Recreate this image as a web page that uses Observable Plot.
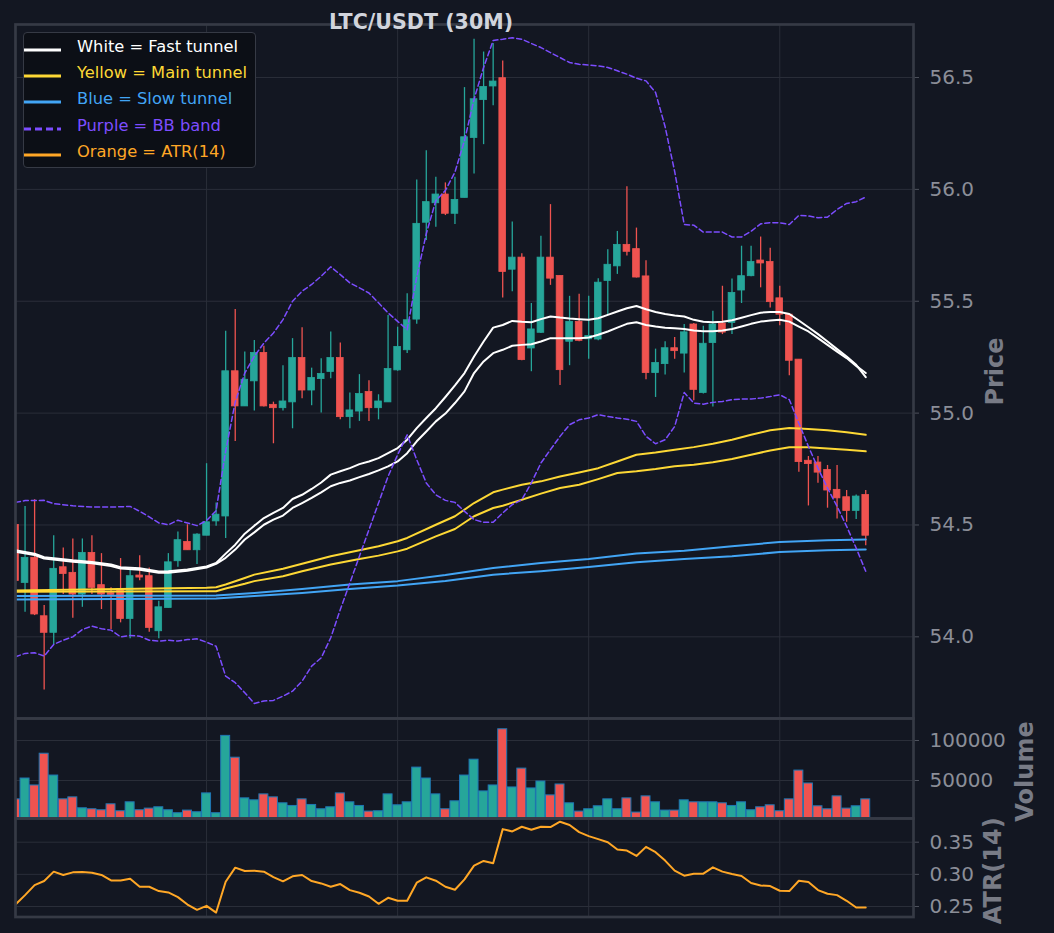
<!DOCTYPE html>
<html><head><meta charset="utf-8">
<script src="https://cdn.jsdelivr.net/npm/d3@7"></script>
<script src="https://cdn.jsdelivr.net/npm/@observablehq/plot@0.6"></script>
<style>
html,body{margin:0;padding:0;background:#131722;}
#wrap{position:relative;width:1054px;height:933px;background:#131722;overflow:hidden;font-family:"DejaVu Sans",sans-serif;}
#wrap svg{position:absolute;left:0;overflow:visible;}
#title{position:absolute;left:0;width:842px;top:10px;text-align:center;font:bold 20.6px "DejaVu Sans",sans-serif;color:#d1d4dc;}
#legend{position:absolute;left:23px;top:32px;width:233px;height:136px;background:#0c0f16;border:1px solid #363a45;border-radius:4px;box-sizing:border-box;}
.lrow{position:absolute;left:0;height:26px;line-height:26px;font:16.3px "DejaVu Sans",sans-serif;white-space:nowrap;}
.lrow svg{position:absolute !important;left:5px;top:11px;}
.lrow span{position:absolute;left:53px;}
</style></head><body><div id="wrap"></div><script>
// ---------- DATA ----------
const candleOpen  = [54.50,54.241,54.353,54.092,54.018,54.311,54.286,54.189,54.375,54.231,54.195,54.214,54.080,54.274,54.271,54.025,54.129,54.338,54.424,54.387,54.452,54.516,54.538,55.187,55.030,55.142,55.269,55.037,55.022,55.048,55.246,55.101,55.152,55.184,55.246,54.982,55.007,55.094,55.022,55.048,55.191,55.281,55.418,55.851,55.938,55.977,55.891,55.962,56.230,56.399,56.460,56.497,55.641,55.695,55.289,55.359,55.695,55.613,55.319,55.408,55.330,55.329,55.591,55.656,55.752,55.733,55.611,55.179,55.219,55.290,55.266,55.396,55.090,55.313,55.400,55.403,55.548,55.612,55.682,55.675,55.513,55.440,55.239,54.787,54.779,54.746,54.657,54.624,54.563,54.634];
const candleHigh  = [54.506,54.583,54.613,54.140,54.452,54.397,54.4375,54.4375,54.452,54.372,54.219,54.350,54.301,54.363,54.308,54.159,54.372,54.469,54.501,54.461,54.774,54.598,55.366,55.463,55.273,55.325,55.299,55.049,55.212,55.333,55.381,55.201,55.243,55.363,55.313,55.090,55.172,55.145,55.082,55.436,55.384,55.534,56.042,56.173,56.054,56.029,56.054,56.455,56.671,56.614,56.652,56.574,55.854,55.712,55.490,55.790,55.932,55.613,55.522,55.531,55.522,55.601,55.730,55.812,56.012,55.827,55.681,55.286,55.319,55.338,55.396,55.400,55.388,55.455,55.567,55.600,55.746,55.746,55.787,55.737,55.567,55.440,55.239,54.806,54.806,54.766,54.766,54.654,54.634,54.654];
const candleLow   = [54.249,54.110,54.095,53.762,53.966,54.189,54.083,54.132,54.189,54.122,54.033,54.0625,53.991,54.251,54.021,53.991,54.129,54.311,54.387,54.323,54.452,54.494,54.440,54.873,55.030,55.010,55.027,54.863,55.010,54.930,55.064,55.033,55.000,55.154,54.970,54.930,54.963,54.963,54.970,55.048,55.187,55.267,55.397,55.772,55.831,55.883,55.843,55.962,56.069,56.200,56.374,55.515,55.542,55.234,55.185,55.356,55.571,55.123,55.212,55.319,55.241,55.323,55.438,55.620,55.702,55.604,55.149,55.070,55.170,55.241,55.179,55.055,55.085,55.027,55.351,55.351,55.490,55.609,55.560,55.470,55.391,55.167,54.736,54.585,54.687,54.575,54.527,54.512,54.525,54.407];
const candleClose = [54.25,54.353,54.100,54.018,54.304,54.281,54.189,54.375,54.219,54.189,54.188,54.080,54.271,54.265,54.040,54.132,54.333,54.432,54.387,54.457,54.512,54.546,55.187,55.030,55.149,55.269,55.030,55.022,55.052,55.246,55.101,55.157,55.175,55.246,54.982,55.012,55.085,55.022,55.052,55.197,55.296,55.415,55.846,55.943,55.977,55.891,55.953,56.233,56.403,56.458,56.482,55.631,55.695,55.237,55.374,55.695,55.601,55.192,55.408,55.323,55.345,55.583,55.663,55.752,55.721,55.606,55.179,55.224,55.290,55.277,55.361,55.104,55.310,55.396,55.360,55.537,55.612,55.675,55.669,55.496,55.440,55.234,54.781,54.772,54.734,54.654,54.619,54.563,54.627,54.452];
const volume = [26446,52480,43805,83472,56200,26446,28930,15290,14054,12815,20250,11575,22730,12815,14880,16530,12815,9100,12400,10330,33890,9100,105785,78514,27690,25210,32650,28930,21490,18185,26446,19425,14054,16530,33890,22730,18185,11160,11575,32650,19010,22730,66120,52480,32650,14054,23970,56200,76035,36370,43805,114050,41325,64880,40090,48760,31410,45040,21490,11160,14054,17770,26446,14054,27690,9920,30170,22730,12400,12400,25210,22730,22730,22730,21490,18185,22730,12815,16530,19010,11575,26446,62400,46285,17770,14054,30170,14880,17770,26446];
const atr14 = [0.2531,0.2677,0.2833,0.2896,0.3042,0.2990,0.3031,0.3036,0.3026,0.2990,0.2906,0.2906,0.2932,0.2807,0.2807,0.2740,0.2719,0.2646,0.2531,0.2448,0.2510,0.2406,0.2885,0.3104,0.3052,0.3057,0.3042,0.2958,0.2891,0.2969,0.2990,0.2896,0.2859,0.2807,0.2849,0.2755,0.2714,0.2656,0.2542,0.2635,0.2589,0.2589,0.2870,0.2953,0.2901,0.2807,0.2760,0.2922,0.3135,0.3208,0.3172,0.3703,0.3667,0.3740,0.3693,0.3740,0.3734,0.3818,0.3766,0.3656,0.3594,0.3547,0.3500,0.3385,0.3370,0.3286,0.3427,0.3344,0.3214,0.3057,0.2979,0.3010,0.3010,0.3109,0.3042,0.3005,0.2974,0.2865,0.2828,0.2818,0.2745,0.2740,0.2901,0.2880,0.2755,0.2698,0.2677,0.2589,0.2484,0.2484];

const fastIdx = [0,2,3,6,8,10,11,13,15,16,18,20,21,22,23,24,25,26,27,28,29,30,31,32,33,34,35,36,37,38,39,40,41,42,43,44,45,46,47,48,49,50,51,52,53,54,55,56,57,58,59,60,61,62,63,64,65,66,67,68,69,70,71,72,73,74,75,76,77,78,79,80,81,82,83,84,85,86,87,88,89];
const fastA = [54.387,54.372,54.356,54.342,54.335,54.323,54.311,54.307,54.292,54.293,54.301,54.315,54.330,
  54.372,54.412,54.461,54.497,54.531,54.554,54.576,54.616,54.635,54.661,54.690,54.725,54.740,54.754,54.772,54.784,54.799,54.821,54.844,54.881,54.933,54.978,55.022,55.072,
  55.124,55.179,55.253,55.320,55.382,55.394,55.412,55.408,55.406,55.420,55.432,55.427,55.423,55.420,55.417,55.424,55.439,55.454,55.469,55.479,55.464,55.452,55.443,55.436,55.432,55.417,55.408,55.406,55.408,55.415,55.426,55.438,55.449,55.452,55.452,55.443,55.414,55.384,55.353,55.320,55.286,55.253,55.216,55.161];
const fastB = [54.380,54.366,54.350,54.336,54.329,54.317,54.305,54.300,54.286,54.287,54.295,54.310,54.326,
  54.353,54.390,54.435,54.467,54.501,54.524,54.542,54.576,54.598,54.621,54.646,54.673,54.688,54.699,54.714,54.728,54.744,54.762,54.784,54.821,54.874,54.918,54.963,54.998,
  55.045,55.097,55.179,55.231,55.268,55.283,55.301,55.305,55.308,55.320,55.335,55.335,55.335,55.335,55.338,55.350,55.365,55.382,55.399,55.406,55.394,55.387,55.382,55.379,55.376,55.369,55.366,55.366,55.369,55.376,55.387,55.399,55.409,55.414,55.417,55.409,55.387,55.365,55.335,55.305,55.275,55.246,55.211,55.179];

const mainIdx = [0,20,21,22,24,25,28,30,33,36,38,40,41,44,46,48,50,51,53,55,57,59,61,63,65,67,69,71,73,75,77,79,81,83,85,87,89];
const mainA = [54.207,54.219,54.222,54.234,54.263,54.278,54.304,54.327,54.360,54.387,54.405,54.427,54.442,54.501,54.539,54.598,54.646,54.658,54.680,54.695,54.717,54.735,54.754,54.784,54.814,54.824,54.836,54.848,54.863,54.881,54.903,54.923,54.933,54.929,54.923,54.914,54.903];
const mainB = [54.201,54.204,54.204,54.216,54.237,54.249,54.271,54.293,54.323,54.348,54.363,54.382,54.394,54.449,54.482,54.539,54.576,54.586,54.613,54.640,54.665,54.680,54.705,54.732,54.740,54.750,54.762,54.769,54.780,54.795,54.814,54.833,54.847,54.847,54.842,54.836,54.829];

const slowIdx = [0,21,25,30,35,40,45,50,55,60,65,70,75,80,85,89];
const slowA = [54.182,54.185,54.196,54.214,54.234,54.249,54.276,54.308,54.330,54.348,54.372,54.385,54.405,54.424,54.432,54.435];
const slowB = [54.167,54.171,54.182,54.196,54.214,54.229,54.250,54.278,54.293,54.312,54.333,54.348,54.360,54.379,54.387,54.390];

const bbUpIdx = [0,1,3,4,6,8,10,12,13,14,15,16,17,18,19,20,21,22,23,24,25,26,27,28,29,30,31,32,33,34,35,36,37,38,39,40,41,42,43,44,45,46,47,48,49,50,51,52,53,54,55,56,57,58,59,60,61,62,63,64,65,66,67,68,69,70,71,72,73,74,75,76,77,78,79,80,81,82,83,84,85,86,87,88,89];
const bbUpper = [54.601,54.609,54.610,54.595,54.586,54.580,54.580,54.583,54.561,54.536,54.509,54.501,54.521,54.509,54.497,54.520,54.564,
  54.830,55.050,55.179,55.254,55.313,55.358,55.418,55.500,55.545,55.575,55.612,55.654,55.619,55.582,55.560,55.537,55.493,55.448,55.410,55.373,
  55.608,55.802,55.950,55.995,56.077,56.218,56.403,56.545,56.666,56.671,56.678,56.671,56.652,56.634,56.611,56.589,56.567,56.559,56.556,56.552,56.545,56.530,56.515,56.497,56.485,56.433,56.280,56.080,
  55.843,55.840,55.809,55.809,55.809,55.787,55.787,55.813,55.846,55.851,55.851,55.843,55.884,55.881,55.873,55.876,55.910,55.937,55.945,55.966];
const bbLower = [53.911,53.926,53.929,53.914,53.966,53.985,54.000,54.033,54.048,54.036,
  54.030,54.000,54.006,54.003,53.985,53.981,53.985,53.981,53.988,53.991,
  53.976,53.958,53.824,53.795,53.750,53.702,53.713,53.716,53.735,53.757,
  53.802,53.869,53.906,53.996,54.122,54.241,54.360,54.479,54.598,54.717,
  54.814,54.903,54.792,54.688,54.635,54.610,54.601,54.561,54.524,54.512,
  54.512,54.554,54.591,54.613,54.688,54.777,54.837,54.896,54.948,54.970,
  54.978,54.993,54.985,54.978,54.973,54.963,54.896,54.863,54.881,54.940,
  55.092,55.045,55.040,55.048,55.052,55.060,55.063,55.063,55.067,55.074,
  55.082,55.060,54.955,54.851,54.754,54.665,54.583,54.494,54.397,54.293];

const priceTicks = [54.0,54.5,55.0,55.5,56.0,56.5];
const volumeTicks = [50000,100000];
const atrTicks = [0.25,0.30,0.35];
const xGridIdx = [20,40,60,80];
const legendLabels = ["White = Fast tunnel","Yellow = Main tunnel","Blue = Slow tunnel","Purple = BB band","Orange = ATR(14)"];
const legendColors = ["#ffffff","#fdd835","#42a5f5","#7c4dff","#ffa726"];
const legendDashed = [false,false,false,true,false];

// ---------- STYLE ----------
const UP = "#26a69a", DOWN = "#ef5350";
const GRID = "#2a2e39", FRAME = "#363a45", TICK = "#8b8e98", LABEL = "#787b86";
const X_DOMAIN = [0, 94];
const W = 1054, ML = 15, MR = 141;

const candles = candleOpen.map((o, i) => ({i, open: o, high: candleHigh[i], low: candleLow[i], close: candleClose[i]}));
const col = d => d.close >= d.open ? UP : DOWN;
const series = (idx, vals) => idx.map((i, k) => ({i, v: vals[k]}));
const allIdx = candleOpen.map((_, i) => i);

const baseStyle = {background: "transparent", color: TICK, fontFamily: "DejaVu Sans", fontSize: "20px", overflow: "visible"};
const axis = (ticks, fmt) => Plot.axisY(ticks, {anchor: "right", label: null, tickSize: 5, tickPadding: 11, tickFormat: fmt, stroke: "#4d515c", fill: TICK, fontSize: 20});
const ylabel = (t, dx, dy) => Plot.text([t], {text: d => d, frameAnchor: "right", dx, dy, rotate: -90, fill: LABEL, fontSize: 24, fontWeight: "bold", textAnchor: "middle"});
const gridX = () => Plot.gridX(xGridIdx, {stroke: GRID, strokeOpacity: 1, strokeWidth: 1});
const frame = () => Plot.frame({stroke: FRAME, strokeWidth: 2.7});

const priceDomain = [53.635, 56.737];
const price = Plot.plot({
  width: W, height: 720, marginTop: 24, marginBottom: 2, marginLeft: ML, marginRight: MR,
  style: baseStyle,
  x: {domain: X_DOMAIN, axis: null, label: null},
  y: {domain: priceDomain, axis: null, label: null},
  marks: [
    Plot.gridY(priceTicks, {stroke: GRID, strokeOpacity: 1}),
    gridX(),
    Plot.ruleX(candles, {x: "i", y1: "low", y2: "high", stroke: col, strokeWidth: 1.3, clip: true}),
    Plot.rect(candles, {x1: d => d.i - 0.35, x2: d => d.i + 0.35, y1: "open", y2: "close", fill: col, stroke: col, strokeWidth: 0.8, clip: true}),
    Plot.line(series(slowIdx, slowA), {x: "i", y: "v", stroke: "#42a5f5", strokeWidth: 2, clip: true}),
    Plot.line(series(slowIdx, slowB), {x: "i", y: "v", stroke: "#42a5f5", strokeWidth: 2, clip: true}),
    Plot.line(series(mainIdx, mainA), {x: "i", y: "v", stroke: "#fdd835", strokeWidth: 2, clip: true}),
    Plot.line(series(mainIdx, mainB), {x: "i", y: "v", stroke: "#fdd835", strokeWidth: 2, clip: true}),
    Plot.line(series(fastIdx, fastA), {x: "i", y: "v", stroke: "#ffffff", strokeWidth: 2, clip: true}),
    Plot.line(series(fastIdx, fastB), {x: "i", y: "v", stroke: "#ffffff", strokeWidth: 2, clip: true}),
    Plot.line(series(bbUpIdx, bbUpper), {x: "i", y: "v", stroke: "#7c4dff", strokeWidth: 1.5, strokeDasharray: "5,3", clip: true}),
    Plot.line(series(allIdx, bbLower), {x: "i", y: "v", stroke: "#7c4dff", strokeWidth: 1.5, strokeDasharray: "5,3", clip: true}),
    axis(priceTicks, d3.format(".1f")),
    ylabel("Price", 82, 0),
    frame()
  ]
});
price.style.top = "0px";

const volDomain = [2500, 127500];
const vols = volume.map((v, i) => ({i, v, c: col(candles[i])}));
const vol = Plot.plot({
  width: W, height: 120, marginTop: 18, marginBottom: 2, marginLeft: ML, marginRight: MR,
  style: baseStyle,
  x: {domain: X_DOMAIN, axis: null, label: null},
  y: {domain: volDomain, axis: null, label: null},
  marks: [
    Plot.gridY(volumeTicks, {stroke: GRID, strokeOpacity: 1}),
    gridX(),
    Plot.rect(vols, {x1: d => d.i - 0.47, x2: d => d.i + 0.47, y1: volDomain[0], y2: "v", fill: "c", stroke: "#1f77b4", strokeWidth: 1, clip: true}),
    axis(volumeTicks, d3.format("d")),
    ylabel("Volume", 112, 3),
    frame()
  ]
});
vol.style.top = "700px";

const atrData = atr14.map((v, i) => ({i, v}));
const atrPlot = Plot.plot({
  width: W, height: 133, marginTop: 18, marginBottom: 16.5, marginLeft: ML, marginRight: MR,
  style: baseStyle,
  x: {domain: X_DOMAIN, axis: null, label: null},
  y: {domain: [0.2337, 0.3868], axis: null, label: null},
  marks: [
    Plot.gridY(atrTicks, {stroke: GRID, strokeOpacity: 1}),
    gridX(),
    Plot.line(atrData, {x: "i", y: "v", stroke: "#ffa726", strokeWidth: 2, clip: true}),
    axis(atrTicks, d3.format(".2f")),
    ylabel("ATR(14)", 80, 3),
    frame()
  ]
});
atrPlot.style.top = "800px";

const wrap = document.getElementById("wrap");
wrap.append(price, vol, atrPlot);

const title = document.createElement("div");
title.id = "title";
title.textContent = "LTC/USDT (30M)";
wrap.append(title);

const legend = document.createElement("div");
legend.id = "legend";
legendLabels.forEach((t, k) => {
  const row = document.createElement("div");
  row.className = "lrow";
  row.style.top = (3.5 + k * 26.4) + "px";
  const dash = legendDashed[k] ? ' stroke-dasharray="7,4"' : '';
  row.innerHTML = `<svg width="38" height="4"><line x1="0" y1="2" x2="37" y2="2" stroke="${legendColors[k]}" stroke-width="3"${dash}/></svg><span style="color:${legendColors[k]}">${t}</span>`;
  legend.append(row);
});
wrap.append(legend);
</script></body></html>
